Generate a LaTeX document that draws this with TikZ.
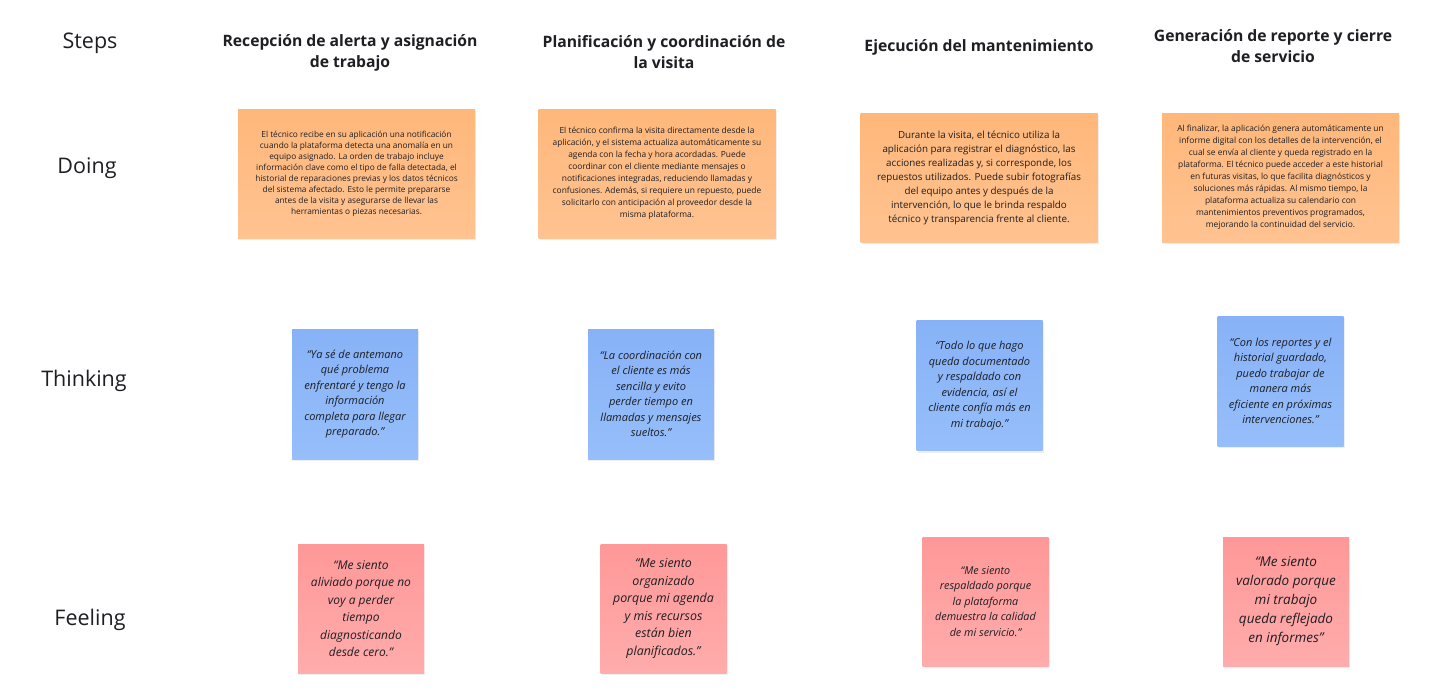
\documentclass[tikz,border=0pt]{standalone}
\usepackage{fontspec}
\setmainfont{Open Sans}
\usetikzlibrary{shadows}

\definecolor{doing_col}{RGB}{255,183,122}
\definecolor{doing_col2}{RGB}{255,195,145}
\definecolor{think_col}{RGB}{135,178,247}
\definecolor{think_col2}{RGB}{150,190,250}
\definecolor{feel_col}{RGB}{255,152,152}
\definecolor{feel_col2}{RGB}{255,172,172}
\definecolor{txt_col}{RGB}{30,30,35}

\tikzset{
    row_style/.style={font=\fontsize{21.5}{26}\selectfont, text=txt_col},
    step_style/.style={font=\bfseries\fontsize{15.7}{21}\selectfont, align=center, text=txt_col},
    note_style/.style={align=center, text=txt_col, inner sep=0pt,
        drop shadow={opacity=0.12, shadow xshift=1pt, shadow yshift=-2pt}},
    doing_style/.style={note_style, top color=doing_col, bottom color=doing_col2,
        minimum width=237pt, minimum height=129pt, font=\fontsize{8.3}{11}\selectfont},
    think_style/.style={note_style, top color=think_col, bottom color=think_col2,
        minimum width=126pt, minimum height=130pt, font=\itshape\fontsize{11}{15.5}\selectfont},
    feel_style/.style={note_style, top color=feel_col, bottom color=feel_col2,
        minimum width=126pt, minimum height=129pt, font=\itshape\fontsize{12}{17.5}\selectfont}
}

\begin{document}
\begin{tikzpicture}[x=1pt, y=-1pt]
    \useasboundingbox[fill=white] (0,0) rectangle (1429,699);

    % row labels
    \node[row_style] (steps) at (90,43) {Steps};
    \node[row_style] (doing) at (87,168) {Doing};
    \node[row_style] (thinking) at (84,381) {Thinking};
    \node[row_style] (feeling) at (90,620) {Feeling};

    % steps
    \node[step_style] (s1) at (350,52.5) {Recepción de alerta y asignación\\de trabajo};
    \node[step_style] (s2) at (664,52.5) {Planificación y coordinación de\\la visita};
    \node[step_style] (s3) at (979,47.5) {Ejecución del mantenimiento};
    \node[step_style] (s4) at (1273,46) {Generación de reporte y cierre\\de servicio};

    % doing
    \node[doing_style] (d1) at (356.5,173.5) {El técnico recibe en su aplicación una notificación\\cuando la plataforma detecta una anomalía en un\\equipo asignado. La orden de trabajo incluye\\información clave como el tipo de falla detectada, el\\historial de reparaciones previas y los datos técnicos\\del sistema afectado. Esto le permite prepararse\\antes de la visita y asegurarse de llevar las\\herramientas o piezas necesarias.};
    \node[doing_style, font=\fontsize{8.4}{12}\selectfont] (d2) at (657,173.5) {El técnico confirma la visita directamente desde la\\aplicación, y el sistema actualiza automáticamente su\\agenda con la fecha y hora acordadas. Puede\\coordinar con el cliente mediante mensajes o\\notificaciones integradas, reduciendo llamadas y\\confusiones. Además, si requiere un repuesto, puede\\solicitarlo con anticipación al proveedor desde la\\misma plataforma.};
    \node[doing_style, font=\fontsize{9.8}{14}\selectfont] (d3) at (979,177.5) {Durante la visita, el técnico utiliza la\\aplicación para registrar el diagnóstico, las\\acciones realizadas y, si corresponde, los\\repuestos utilizados. Puede subir fotografías\\del equipo antes y después de la\\intervención, lo que le brinda respaldo\\técnico y transparencia frente al cliente.};
    \node[doing_style, font=\fontsize{8.4}{12}\selectfont] (d4) at (1280.5,177.5) {Al finalizar, la aplicación genera automáticamente un\\informe digital con los detalles de la intervención, el\\cual se envía al cliente y queda registrado en la\\plataforma. El técnico puede acceder a este historial\\en futuras visitas, lo que facilita diagnósticos y\\soluciones más rápidas. Al mismo tiempo, la\\plataforma actualiza su calendario con\\mantenimientos preventivos programados,\\mejorando la continuidad del servicio.};

    % thinking
    \node[think_style] (t1) at (355,394) {“Ya sé de antemano\\qué problema\\enfrentaré y tengo la\\información\\completa para llegar\\preparado.”};
    \node[think_style] (t2) at (651,394) {“La coordinación con\\el cliente es más\\sencilla y evito\\perder tiempo en\\llamadas y mensajes\\sueltos.”};
    \node[think_style] (t3) at (979.5,385.5) {“Todo lo que hago\\queda documentado\\y respaldado con\\evidencia, así el\\cliente confía más en\\mi trabajo.”};
    \node[think_style] (t4) at (1280.5,381) {“Con los reportes y el\\historial guardado,\\puedo trabajar de\\manera más\\eficiente en próximas\\intervenciones.”};

    % feeling
    \node[feel_style] (f1) at (361,608.5) {“Me siento\\aliviado porque no\\voy a perder\\tiempo\\diagnosticando\\desde cero.”};
    \node[feel_style, font=\itshape\fontsize{12.4}{17.5}\selectfont] (f2) at (663.5,608.5) {“Me siento\\organizado\\porque mi agenda\\y mis recursos\\están bien\\planificados.”};
    \node[feel_style, font=\itshape\fontsize{10.8}{15.5}\selectfont] (f3) at (985.5,601.5) {“Me siento\\respaldado porque\\la plataforma\\demuestra la calidad\\de mi servicio.”};
    \node[feel_style, font=\itshape\fontsize{13.5}{19}\selectfont] (f4) at (1286,601.5) {“Me siento\\valorado porque\\mi trabajo\\queda reflejado\\en informes”};

\end{tikzpicture}
\end{document}
